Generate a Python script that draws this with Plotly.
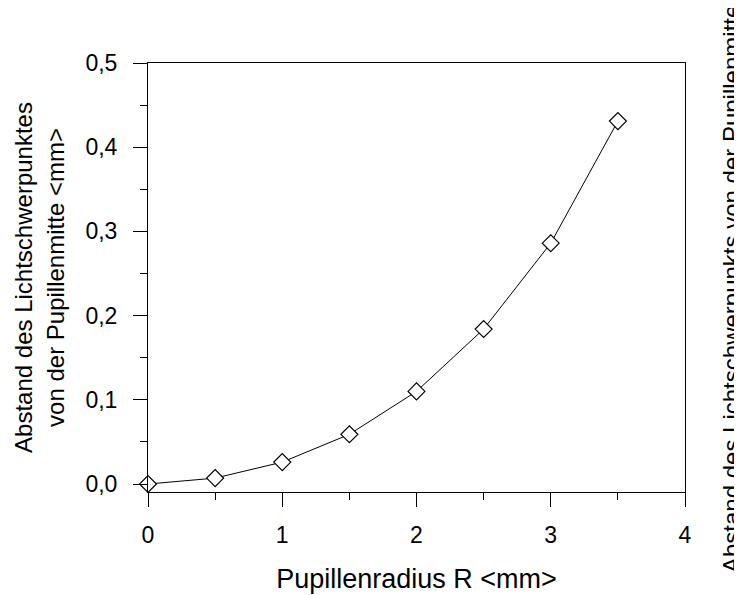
import plotly.graph_objects as go

radius = [0, 0.5, 1, 1.5, 2, 2.5, 3, 3.5]
distance = [0.0, 0.007, 0.026, 0.059, 0.110, 0.184, 0.286, 0.431]

x_ticks = [0, 1, 2, 3, 4]
x_labels = ["0", "1", "2", "3", "4"]
y_ticks = [0.0, 0.1, 0.2, 0.3, 0.4, 0.5]
y_labels = ["0,0", "0,1", "0,2", "0,3", "0,4", "0,5"]

x_title = "Pupillenradius R <mm>"
y_title = "Abstand des Lichtschwerpunktes<br>von der Pupillenmitte <mm>"
right_title = "Abstand des Lichtschwerpunkts von der Pupillenmitte"

FONT = "Liberation Sans, Arial, sans-serif"

fig = go.Figure()
fig.add_trace(go.Scatter(
    x=radius, y=distance, mode="lines+markers",
    line=dict(color="black", width=1),
    marker=dict(symbol="diamond", size=13, color="white",
                line=dict(color="black", width=1.2)),
    showlegend=False, cliponaxis=False,
))

# the page body adds an 8px offset; figure coordinates compensate for it
OFF = 8
W, H = 742, 595
PX0, PX1, PY0, PY1 = 148, 685, 63, 492   # desired plot area in window px
L = PX0 - OFF
T = PY0 - OFF
R = W - (PX1 - OFF)
B = H - (PY1 - OFF)

fig.update_layout(
    width=W, height=H,
    margin=dict(l=L, r=R, t=T, b=B, pad=0, autoexpand=False),
    paper_bgcolor="white", plot_bgcolor="white",
    font=dict(family=FONT, color="black", size=23),
    xaxis=dict(
        range=[0, 4], tickmode="array", tickvals=x_ticks, ticktext=x_labels,
        ticks="outside", ticklen=14, tickwidth=1, tickcolor="black",
        showline=True, linecolor="black", linewidth=1, mirror=True,
        showgrid=False, zeroline=False, automargin=False,
        tickfont=dict(size=23), ticklabelstandoff=8,
        minor=dict(dtick=0.5, tick0=0, ticks="outside", ticklen=7,
                   tickcolor="black", tickwidth=1, showgrid=False),
        title=dict(text=x_title, font=dict(size=27), standoff=22),
    ),
    yaxis=dict(
        range=[-0.0095, 0.5], tickmode="array", tickvals=y_ticks, ticktext=y_labels,
        ticks="outside", ticklen=14, tickwidth=1, tickcolor="black",
        showline=True, linecolor="black", linewidth=1, mirror=True,
        showgrid=False, zeroline=False, automargin=False,
        tickfont=dict(size=23), ticklabelstandoff=11,
        minor=dict(dtick=0.05, tick0=0, ticks="outside", ticklen=7,
                   tickcolor="black", tickwidth=1, showgrid=False),
        title=dict(text=y_title, font=dict(size=24), standoff=14),
    ),
)

pw = PX1 - PX0
ph = PY1 - PY0
fig.add_annotation(
    text=right_title, textangle=-90, showarrow=False,
    xref="paper", yref="paper",
    x=(731 - PX0) / pw, y=(PY1 - 289) / ph,
    xanchor="center", yanchor="middle",
    font=dict(size=24, family=FONT, color="black"),
)

fig.write_html("out.html")
